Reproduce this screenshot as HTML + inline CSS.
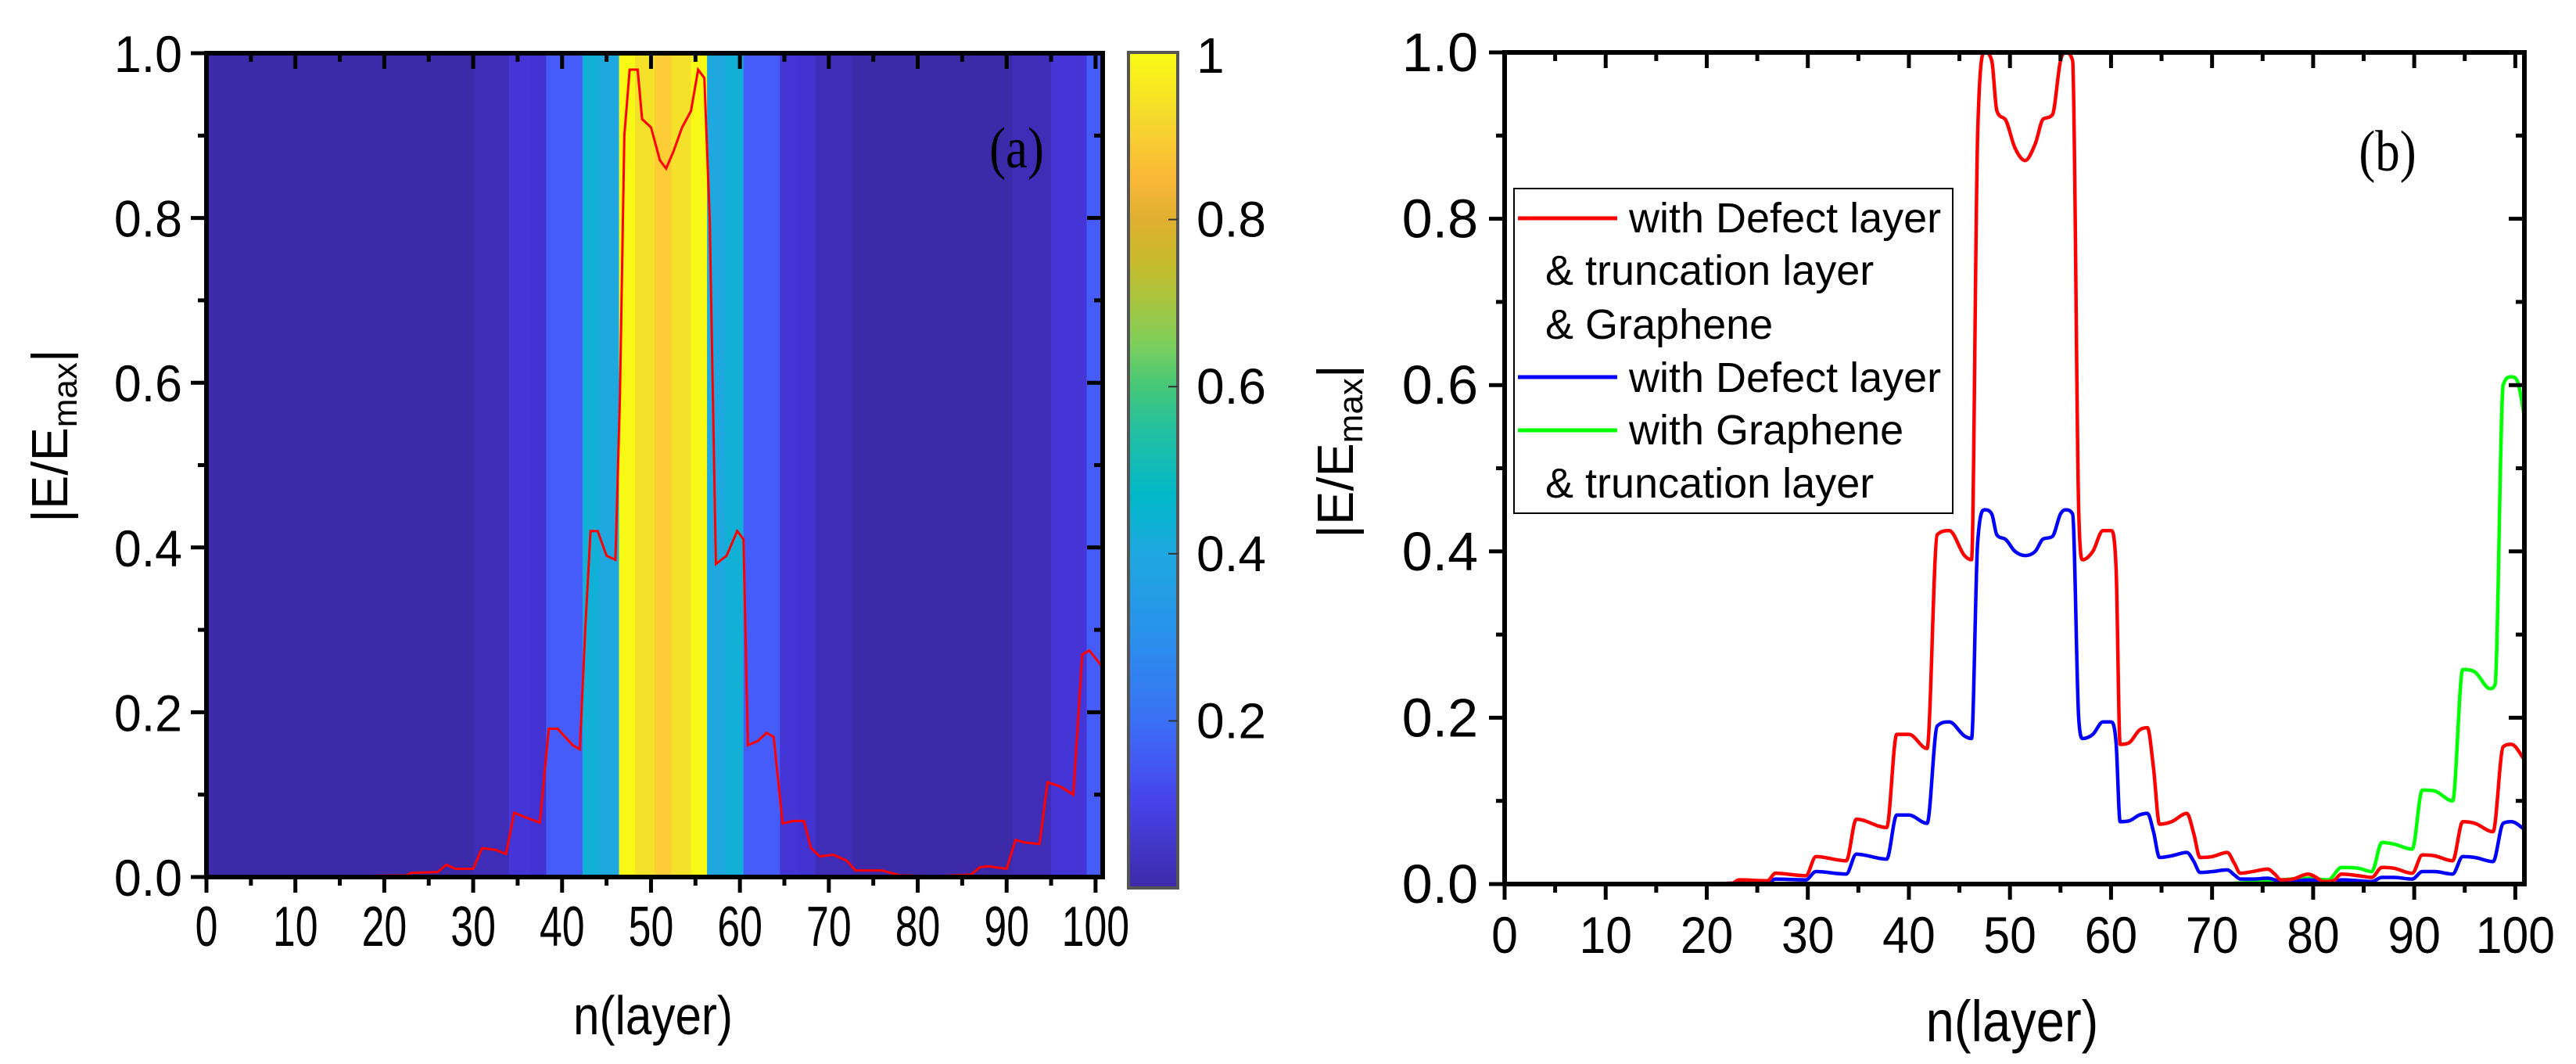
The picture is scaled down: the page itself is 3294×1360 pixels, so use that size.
<!DOCTYPE html>
<html><head><meta charset="utf-8"><style>
html,body{margin:0;padding:0;background:#fff;}
svg{display:block;font-family:"Liberation Sans",sans-serif;}
</style></head><body>
<svg id="fig" width="3294" height="1360" viewBox="0 0 3294 1360" xmlns="http://www.w3.org/2000/svg">
<defs>
<linearGradient id="parula" x1="0" y1="1" x2="0" y2="0">
<stop offset="0" stop-color="#3e2aa8"/><stop offset="0.1" stop-color="#4642e8"/><stop offset="0.15" stop-color="#4358f2"/>
<stop offset="0.2" stop-color="#3a70f5"/><stop offset="0.3" stop-color="#2a90ec"/><stop offset="0.4" stop-color="#1ea8e0"/>
<stop offset="0.47" stop-color="#00b8c8"/><stop offset="0.55" stop-color="#25c0a0"/><stop offset="0.6" stop-color="#45c878"/>
<stop offset="0.65" stop-color="#7ccf5c"/><stop offset="0.7" stop-color="#a6c540"/><stop offset="0.75" stop-color="#c8ba2a"/>
<stop offset="0.8" stop-color="#e0b030"/><stop offset="0.85" stop-color="#fbb838"/><stop offset="0.92" stop-color="#f6d82c"/>
<stop offset="1" stop-color="#f9fb14"/>
</linearGradient>
<clipPath id="clipA"><rect x="264" y="68" width="1146" height="1053"/></clipPath>
<clipPath id="clipB"><rect x="1924" y="67" width="1304" height="1063"/></clipPath>
</defs>
<g id="panelA"></g>
<g id="panelB"></g>
</svg>
<script>
// ---------- data ----------
const bandStart = [0, 30, 34, 36.3, 38.2, 42.3, 44.2, 46.4, 48.2, 50.4, 52.3, 54.5, 56.3, 58.3, 60.4, 64.5, 66.5, 68.5, 72.7, 90.6, 95, 99];
const bandEnd   = [30, 34, 36.3, 38.2, 42.3, 44.2, 46.4, 48.2, 50.4, 52.3, 54.5, 56.3, 58.3, 60.4, 64.5, 66.5, 68.5, 72.7, 90.6, 95, 99, 101];
const bandColor = ["#3d2aa8","#3f2db8","#4535d6","#4232d2","#465cf8","#12b0d6","#1fa8e0","#f8f815","#f5e02a","#fdcd35","#f5e02a","#f8f815","#1fa8e0","#12b0d6","#465cf8","#4535d6","#4232d2","#3f2db8","#3d2aa8","#3f2db8","#4535d6","#465cf8"];

const aRedX = [15,22.5,23,26,27,28,30,31,32.5,33.7,34.6,36,37.5,38.5,39.5,41.2,42,42.6,43.2,44,45,46,46.5,47,47.6,48.5,49,50,51,51.7,52.5,53.5,54.5,55.3,56,56.6,57.3,58.5,59.7,60.4,60.9,62,63,63.8,64.8,66,67.2,68,69,70.5,72,73,76,78,82,86,87,88,90,91,92,93.7,94.6,96,97.5,98.5,99.3,100.4,101];
const aRedY = [0.001,0.002,0.005,0.006,0.015,0.01,0.01,0.035,0.033,0.028,0.078,0.072,0.066,0.18,0.18,0.16,0.155,0.3,0.42,0.42,0.39,0.385,0.58,0.9,0.98,0.98,0.92,0.91,0.87,0.86,0.88,0.91,0.93,0.98,0.97,0.8,0.38,0.39,0.42,0.41,0.16,0.165,0.175,0.17,0.065,0.068,0.068,0.035,0.025,0.027,0.02,0.008,0.008,0.002,0.001,0.003,0.012,0.013,0.01,0.045,0.042,0.04,0.115,0.11,0.1,0.27,0.275,0.26,0.25];

const bRedX = [0,15,22.5,23.2,26,26.8,29.8,30.8,33.8,34.8,37.8,38.8,40,41.8,42.8,44,45.5,46.2,46.8,47.5,48.2,48.7,49.5,50.5,51.5,52.5,53.3,54.2,55,55.5,56.2,56.8,57.2,58.2,59.2,60,60.5,60.9,61.8,62.8,63.6,64.2,64.8,66,67.5,68.2,68.8,70,71.5,72.2,72.8,74,75.5,76.2,76.8,78,79.5,80.3,81,82,82.8,84.5,85.8,86.8,88,89.8,90.8,92,93.8,94.8,96,97.8,98.8,99.6,101];
const bRedY = [0,0,0.001,0.005,0.004,0.013,0.01,0.033,0.028,0.078,0.068,0.18,0.18,0.163,0.42,0.425,0.395,0.39,0.9,1.0,0.99,0.93,0.92,0.885,0.87,0.89,0.92,0.925,0.99,1.0,0.99,0.45,0.39,0.4,0.425,0.425,0.38,0.168,0.17,0.185,0.188,0.14,0.072,0.075,0.085,0.06,0.032,0.033,0.038,0.025,0.013,0.015,0.018,0.012,0.005,0.006,0.012,0.008,0.003,0.004,0.012,0.01,0.008,0.02,0.019,0.013,0.035,0.034,0.028,0.075,0.073,0.063,0.165,0.168,0.148];

const bBlueX = [0,15,22.5,23.2,26,26.8,29.8,30.8,33.8,34.8,37.8,38.8,40,41.8,42.8,44,45.5,46.2,46.8,47.5,48.2,48.7,49.5,50.5,51.5,52.5,53.3,54.2,55,55.5,56.2,56.8,57.2,58.2,59.2,60,60.5,60.9,61.8,62.8,63.6,64.2,64.8,66,67.5,68.2,68.8,70,71.5,72.2,72.8,74,75.5,76.2,76.8,78,79.5,80.3,81,82,82.8,84.5,85.8,86.8,88,89.8,90.8,92,93.8,94.8,96,97.8,98.8,99.6,101];
const bBlueY = [0,0,0.001,0.002,0.002,0.006,0.005,0.015,0.012,0.036,0.03,0.083,0.083,0.073,0.19,0.195,0.178,0.175,0.41,0.45,0.445,0.42,0.415,0.4,0.395,0.4,0.415,0.418,0.445,0.45,0.445,0.2,0.175,0.18,0.195,0.195,0.17,0.075,0.076,0.083,0.085,0.063,0.032,0.034,0.038,0.027,0.014,0.015,0.017,0.011,0.006,0.006,0.007,0.005,0.002,0.003,0.005,0.004,0.001,0.002,0.005,0.004,0.003,0.008,0.008,0.006,0.015,0.015,0.012,0.033,0.032,0.027,0.073,0.075,0.065];

const bGreenX = [0,70,75,79.5,81.5,82.8,84.5,85.8,86.8,88,89.8,90.8,92,93.8,94.8,96,97.5,98,98.8,99.6,100.2,101];
const bGreenY = [0,0,0.003,0.007,0.005,0.02,0.019,0.015,0.05,0.048,0.042,0.113,0.112,0.1,0.258,0.255,0.235,0.24,0.6,0.61,0.605,0.555];

const xTickLabels = ["0","10","20","30","40","50","60","70","80","90","100"];
const yTickLabels = ["0.0","0.2","0.4","0.6","0.8","1.0"];
const cbTickLabels = ["0.2","0.4","0.6","0.8","1"];
const cbTickValues = [0.2,0.4,0.6,0.8,1];

// ---------- helpers ----------
const NS = "http://www.w3.org/2000/svg";
function mk(tag, attrs, parent){const e=document.createElementNS(NS,tag);for(const k in attrs)e.setAttribute(k,attrs[k]);parent.appendChild(e);return e;}
function txt(parent,x,y,s,size,sx,anchor,fam){
  const g=mk("g",{transform:`translate(${x},${y}) scale(${sx},1)`},parent);
  const t=mk("text",{x:0,y:0,"font-size":size,"text-anchor":anchor||"middle","font-family":fam||'"Liberation Sans",sans-serif',fill:"#000"},g);
  t.textContent=s;return t;
}
// monotone cubic (Fritsch-Carlson) path through pixel points
function monotonePath(px,py){
  const n=px.length; if(n<2) return "";
  const d=[],m=new Array(n);
  for(let i=0;i<n-1;i++) d.push((py[i+1]-py[i])/(px[i+1]-px[i]));
  m[0]=d[0]; m[n-1]=d[n-2];
  for(let i=1;i<n-1;i++) m[i]=(d[i-1]*d[i]<=0)?0:(d[i-1]+d[i])/2;
  for(let i=0;i<n-1;i++){
    if(d[i]===0){m[i]=0;m[i+1]=0;continue;}
    const a=m[i]/d[i],b=m[i+1]/d[i],s=a*a+b*b;
    if(s>9){const t=3/Math.sqrt(s);m[i]=t*a*d[i];m[i+1]=t*b*d[i];}
  }
  let p=`M${px[0]},${py[0]}`;
  for(let i=0;i<n-1;i++){
    const h=(px[i+1]-px[i])/3;
    p+=` C${px[i]+h},${py[i]+m[i]*h} ${px[i+1]-h},${py[i+1]-m[i+1]*h} ${px[i+1]},${py[i+1]}`;
  }
  return p;
}

function makePanel(P){
  const sx = v => P.x0 + (v - P.xmin)/(P.xmax - P.xmin)*(P.x1 - P.x0);
  const sy = v => P.y0 - v*(P.y0 - P.y1);
  return {sx, sy};
}

// ---------- Panel A ----------
const gA = document.getElementById("panelA");
const PA = {x0:264, x1:1410, y0:1121, y1:68, xmin:0, xmax:100.8};
const A = makePanel(PA);
const heat = mk("g",{"clip-path":"url(#clipA)"},gA);


for(let i=0;i<bandStart.length;i++){
  const r=mk("rect",{x:A.sx(bandStart[i]),y:PA.y1,width:A.sx(bandEnd[i])-A.sx(bandStart[i])+0.5,height:PA.y0-PA.y1,fill:bandColor[i]},heat);
  
  
}
const lineA = mk("polyline",{points:aRedX.map((x,i)=>A.sx(x)+","+A.sy(aRedY[i])).join(" "),fill:"none",stroke:"#ff0000","stroke-width":3,"clip-path":"url(#clipA)"},gA);



function axes(g, P, S, o){
  const frame=mk("rect",{x:P.x0,y:P.y1,width:P.x1-P.x0,height:P.y0-P.y1,fill:"none",stroke:"#000","stroke-width":6},g);
  
  
  for(let v=0; v<=100; v+=5){
    const x=S.sx(v), maj=(v%10===0), L=maj?20:11;
    mk("line",{x1:x,y1:P.y0,x2:x,y2:P.y0+L,stroke:"#000","stroke-width":5},g);
    mk("line",{x1:x,y1:P.y1,x2:x,y2:P.y1+L,stroke:"#000","stroke-width":5},g);
  }
  for(let k=0;k<=10;k++){
    const y=S.sy(k/10), maj=(k%2===0), L=maj?20:11;
    mk("line",{x1:P.x0-L,y1:y,x2:P.x0,y2:y,stroke:"#000","stroke-width":5},g);
    mk("line",{x1:P.x1-L,y1:y,x2:P.x1,y2:y,stroke:"#000","stroke-width":5},g);
  }
  xTickLabels.forEach((s,i)=>{const t=txt(g,S.sx(i*10),o.xlY,s,o.xlSize,o.xlSx,"middle");
    });
  yTickLabels.forEach((s,i)=>{const t=txt(g,P.x0-o.ylGap,S.sy(i*0.2)+o.ylOff,s,o.ylSize,o.ylSx,"end");
    });
  const xt=txt(g,o.xtX,o.xtY,"n(layer)",o.xtSize,o.xtSx,"middle");
  
  const yg=mk("g",{transform:`translate(${o.ytX},${o.ytY}) rotate(-90)`},g);
  
  const t=mk("text",{x:0,y:0,"font-size":65,"text-anchor":"middle",fill:"#000"},yg);
  t.innerHTML='|E/E<tspan font-size="44" dy="12">max</tspan><tspan dy="-12">|</tspan>';
}
axes(gA, PA, A, {xlY:1209,xlSize:72,xlSx:0.72,ylGap:31,ylOff:24,ylSize:66,ylSx:0.95,xtX:835,xtY:1322,xtSize:70,xtSx:0.86,ytX:86,ytY:557});
const la=txt(gA,1300,214,"(a)",74,0.85,"middle",'"Liberation Serif",serif');


// colorbar
const cb={x:1443,w:63,top:67,bot:1135};
const cbr=mk("rect",{x:cb.x,y:cb.top,width:cb.w,height:cb.bot-cb.top,fill:"url(#parula)",stroke:"#555","stroke-width":4},gA);

cbTickValues.forEach((v,i)=>{
  const y=cb.bot-v*(cb.bot-cb.top);
  if(v<1) mk("line",{x1:cb.x+cb.w-12,y1:y,x2:cb.x+cb.w,y2:y,stroke:"#333","stroke-width":2},gA);
  const t=txt(gA,1530,y+(v===1?26:22),cbTickLabels[i],64,1,"start");
  
});

// ---------- Panel B ----------
const gB=document.getElementById("panelB");
const PB={x0:1924,x1:3228,y0:1130,y1:67,xmin:0,xmax:100.9};
const B=makePanel(PB);
function series(xs,ys,color,name){
  const p=mk("path",{d:monotonePath(xs.map(B.sx),ys.map(B.sy)),fill:"none",stroke:color,"stroke-width":4.5,"stroke-linejoin":"round","clip-path":"url(#clipB)"},gB);
  
  
}
series(bGreenX,bGreenY,"#00ff00","green-series-line");
series(bBlueX,bBlueY,"#0000ff","blue-series-line");
series(bRedX,bRedY,"#ff0000","red-series-line");
axes(gB, PB, B, {xlY:1218,xlSize:66,xlSx:0.92,ylGap:34,ylOff:24,ylSize:70,ylSx:1.0,xtX:2573,xtY:1331,xtSize:74,xtSx:0.88,ytX:1730,ytY:577});
const lb=txt(gB,3053,218,"(b)",74,0.85,"middle",'"Liberation Serif",serif');


// legend
const leg=mk("g",{},gB);


mk("rect",{x:1936,y:241,width:561,height:415,fill:"#fff",stroke:"#000","stroke-width":2},leg);
const legRows=[["#ff0000","with Defect layer",279,297],[null,"& truncation layer",0,364],[null,"& Graphene",0,433],["#0000ff","with Defect layer",482,501],["#00ff00","with Graphene",550,568],[null,"& truncation layer",0,636]];
legRows.forEach(r=>{
  if(r[0]){const l=mk("line",{x1:1941,y1:r[2],x2:2068,y2:r[2],stroke:r[0],"stroke-width":5},leg);
    }
  const t=txt(leg,r[0]?2083:1976,r[3],r[1],54,1,"start");
  
});
</script>
</body></html>
